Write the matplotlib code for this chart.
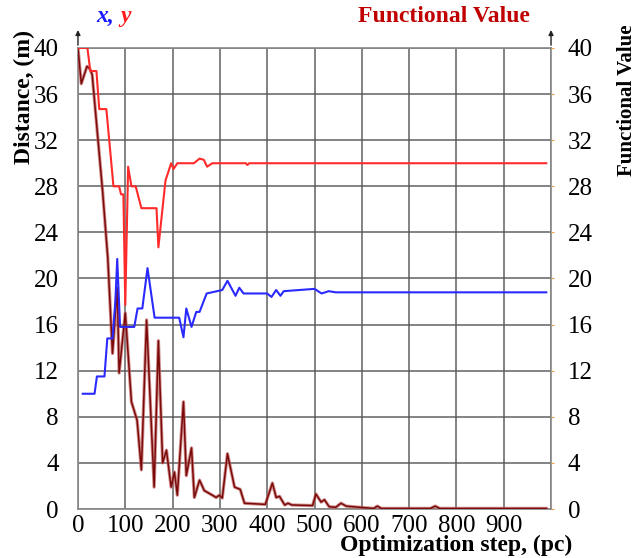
import matplotlib.pyplot as plt

plt.rcParams['font.family'] = ['Liberation Serif', 'DejaVu Serif']

# coordinate x of the target
step_x = [10, 35, 40, 56, 62, 73, 79, 83, 89, 119, 126, 136, 147, 162, 214, 223, 229, 240, 250, 257,
          272, 305, 316, 333, 341, 350, 400, 409, 419, 428, 435, 500, 515, 530, 545, 990]
x_val = [10.0, 10.0, 11.5, 11.5, 14.8, 14.8, 18.0, 21.7, 15.8, 15.8, 17.4, 17.4, 20.9, 16.6, 16.6, 14.9, 17.4,
         15.8, 17.1, 17.1, 18.7, 19.0, 19.8, 18.5, 19.2, 18.7, 18.7, 18.4, 19.0, 18.5, 18.9, 19.1, 18.7,
         18.9, 18.8, 18.8]

# coordinate y of the target
step_y = [0, 20, 26, 39, 45, 60, 75, 87, 91, 96, 100, 106, 113, 122, 134, 166, 170, 185, 197, 202,
          210, 245, 257, 266, 273, 284, 355, 358, 362, 990]
y_val = [40.0, 40.0, 38.0, 38.0, 34.7, 34.7, 28.0, 28.0, 27.3, 27.3, 17.7, 29.7, 28.0, 28.0, 26.1, 26.1,
         22.7, 28.5, 30.0, 29.5, 30.0, 30.0, 30.4, 30.3, 29.7, 30.0, 30.0, 29.85, 30.0, 30.0]

# functional value
step_f = [0, 7, 19, 25, 30, 52, 63, 73, 83, 87, 100, 113, 125, 134, 145, 161, 170, 179, 187, 197, 204,
          210, 223, 229, 240, 246, 257, 267, 284, 292, 299, 305, 316, 331, 343, 352, 396, 411, 419, 426,
          437, 444, 452, 496, 503, 514, 521, 531, 545, 556, 567, 595, 625, 633, 641, 745, 755, 765, 990]
f_val = [40.0, 36.9, 38.4, 38.2, 37.7, 27.6, 21.8, 13.5, 19.2, 11.8, 17.0, 9.3, 7.7, 3.4, 16.4, 1.9, 14.6,
         4.0, 5.1, 1.9, 3.2, 1.2, 9.3, 2.9, 5.3, 1.0, 2.5, 1.6, 1.2, 1.0, 1.2, 0.95, 4.8, 1.9, 1.7, 0.5,
         0.4, 2.25, 1.0, 1.1, 0.35, 0.5, 0.35, 0.3, 1.3, 0.6, 0.8, 0.2, 0.15, 0.5, 0.25, 0.15, 0.05, 0.25,
         0.05, 0.05, 0.25, 0.05, 0.05]

yticks = [0, 4, 8, 12, 16, 20, 24, 28, 32, 36, 40]
xticks = [0, 100, 200, 300, 400, 500, 600, 700, 800, 900]

fig = plt.figure(figsize=(6.36, 5.58), dpi=100)
ax = fig.add_axes([0.1226, 0.0878, 0.7438, 0.8262])

ax.plot(step_f, f_val, color='#c06060', lw=2.4, alpha=0.7, zorder=3)
ax.plot(step_f, f_val, color='#7a0a0a', lw=1.1, zorder=4)
ax.plot(step_y, y_val, color='#ff2a2a', lw=1.5, zorder=5)
ax.plot(step_x, x_val, color='#2a2aff', lw=1.5, zorder=5)

ax.set_xlim(0, 1000)
ax.set_ylim(0, 40)
ax.set_xticks(xticks + [1000])
ax.set_xticklabels([str(v) for v in xticks] + [''])
ax.set_yticks(yticks)
ax.grid(True, color='#555555', lw=1.2, alpha=0.85)
for s in ax.spines.values():
    s.set_color('#888888')
    s.set_linewidth(1.2)
ax.tick_params(length=0, labelsize=18, pad=4)
ax.tick_params(axis='y', pad=14)

ax2 = ax.twinx()
ax2.set_ylim(0, 40)
ax2.set_yticks(yticks)
ax2.tick_params(length=2, color='#f0a040', labelsize=18, pad=10)
for s in ax2.spines.values():
    s.set_visible(False)

# axis titles
fig.text(0.039, 0.826, 'Distance, (m)', fontsize=17, fontweight='bold', rotation=90,
         ha='center', va='center')
fig.text(0.986, 0.82, 'Functional Value', fontsize=15, fontweight='bold', rotation=90,
         ha='center', va='center')
fig.text(0.899, 0.023, 'Optimization step, (pc)', fontsize=17, fontweight='bold',
         ha='right', va='center')

# arrows on top of both vertical axes
for xa in (0, 1):
    ax.annotate('', xy=(xa, 1.045), xytext=(xa, 1.0), xycoords='axes fraction',
                arrowprops=dict(arrowstyle='-|>', color='#222222', lw=1, mutation_scale=7))

fig.text(0.152, 0.970, 'x,', color='#1a1aff', fontsize=17, fontweight='bold', style='italic', va='center')
fig.text(0.189, 0.970, 'y', color='#ff1a1a', fontsize=17, fontweight='bold', style='italic', va='center')
fig.text(0.563, 0.970, 'Functional Value', color='#c00000', fontsize=17, fontweight='bold', va='center')

fig.savefig('out.png', dpi=100)
